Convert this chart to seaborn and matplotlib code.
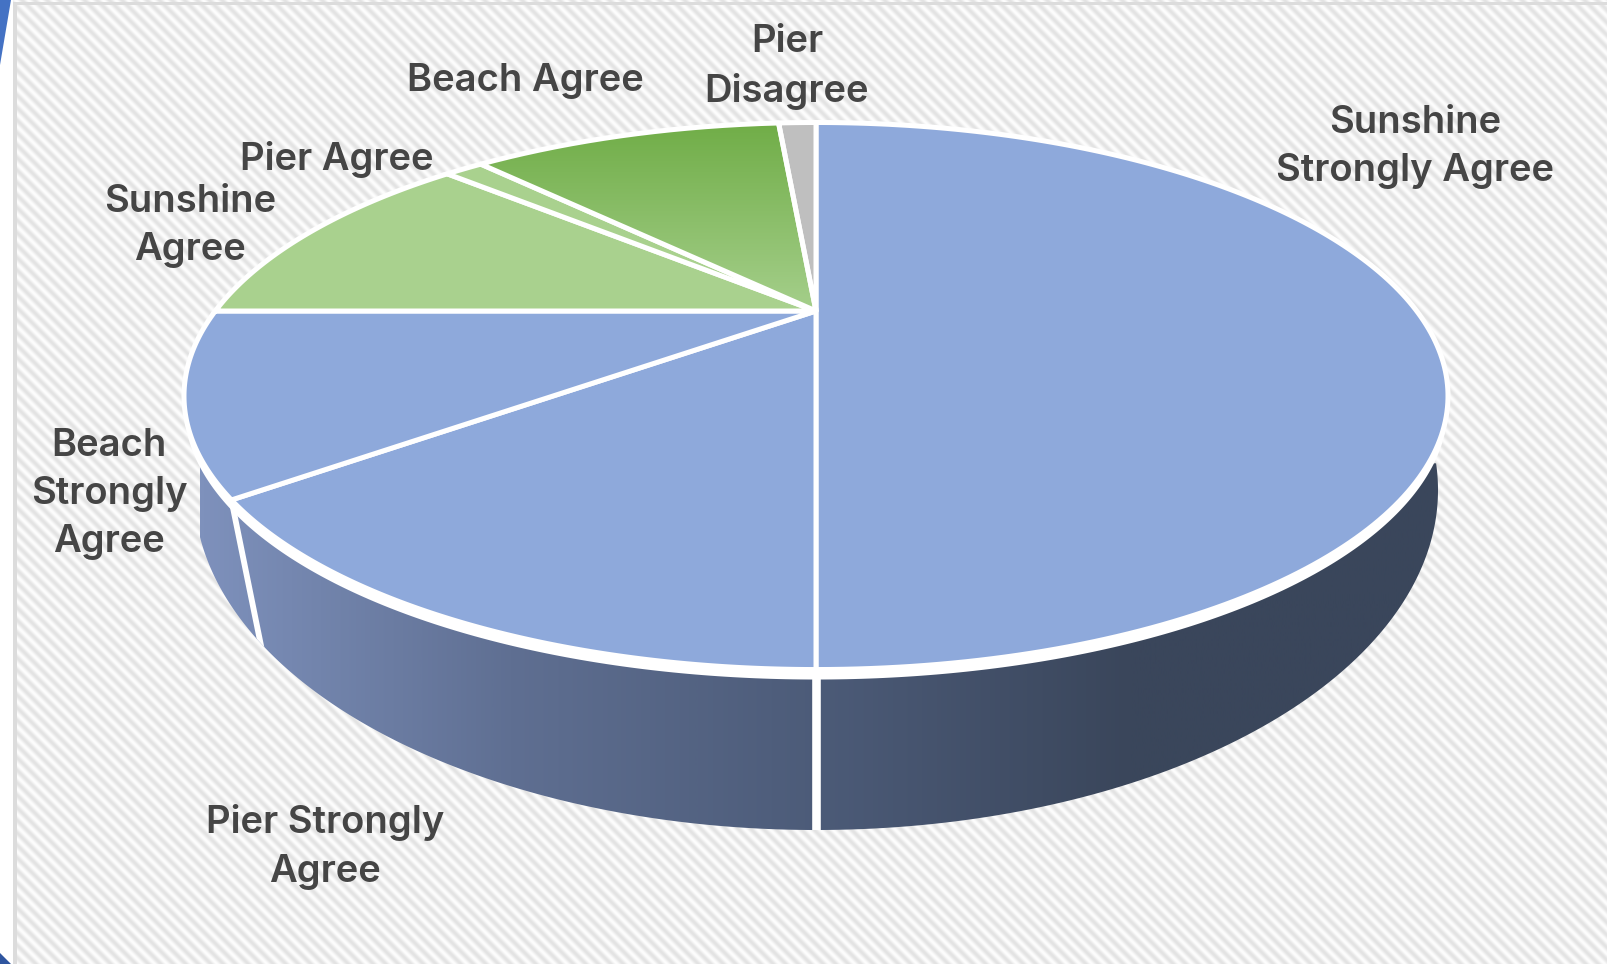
import numpy as np
import matplotlib
matplotlib.use("Agg")
import matplotlib.pyplot as plt
from matplotlib.patches import Polygon
import seaborn as sns

sns.set_theme(style="white")
plt.rcParams['font.family'] = ['Inter', 'DejaVu Sans']

# Survey shares, clockwise from 12 o'clock
categories = ["Sunshine\nStrongly Agree", "Pier Strongly\nAgree", "Beach\nStrongly\nAgree",
              "Sunshine\nAgree", "Pier Agree", "Beach Agree", "Pier\nDisagree"]
values = [50.0, 14.4, 10.6, 11.7, 1.3, 10.7, 1.3]
slice_colors = ["#8EA9DB", "#8EA9DB", "#8EA9DB", "#A9D18E", "#A9D18E", None, "#BFBFBF"]
label_x = [1415, 325, 109, 190, 337, 525, 787]
label_y = [147, 847, 494, 226, 160, 81, 67]

W, H = 1608, 964
CX, CY = 816, 311      # apex of the pie on the page
A, K, P = 600.7, 247.1, -0.3108   # perspective of the tilted disc
WALL_A, WALL_B, WALL_CY = 622, 340, 490   # outline of the lower edge of the wall


def project(theta, scale=1.0, cy=CY):
    u, v = np.sin(theta), -np.cos(theta)
    d = 1 + P * v
    return CX + scale * A * u / d, cy + scale * K * v / d


def reset_limits():
    # imshow moves the limits, put them back
    ax.set_xlim(0, W)
    ax.set_ylim(H, 0)


fig = plt.figure(figsize=(W / 100, H / 100), dpi=100)
ax = fig.add_axes([0, 0, 1, 1])
ax.axis("off")

# hatched backdrop
yy, xx = np.mgrid[0:H, 0:W]
hatch = 0.5 + 0.5 * np.sin(2 * np.pi * (xx - yy) / 12.5)
bg_cmap = sns.blend_palette(["#E3E3E3", "#FDFDFD"], as_cmap=True)
ax.imshow(hatch, cmap=bg_cmap, extent=(0, W, H, 0), aspect="auto", zorder=0)
reset_limits()
ax.fill([0, 13, 13, 0], [0, 0, H, H], color="white", lw=0, zorder=1)
ax.fill([13, 17, 17, 13], [2, 2, H, H], color="#DCDCDC", lw=0, zorder=1)
ax.fill([13, W, W, 13], [2, 2, 5, 5], color="#DCDCDC", lw=0, zorder=1)
ax.fill([0, 11, 0], [0, 0, 65], color="#4472C4", lw=0, zorder=2)
ax.fill([0, 11, 0], [953, 964, 964], color="#2F559F", lw=0, zorder=2)

# side wall
t_wall = np.linspace(0, 2 * np.pi, 1441)
wx = CX + WALL_A * np.sin(t_wall)
wy = WALL_CY - WALL_B * np.cos(t_wall)
wall_keep = wy >= 463
wall_xy = np.c_[wx[wall_keep], wy[wall_keep]]
wall_patch = Polygon(wall_xy, closed=True, fc="none", ec="none")
ax.add_patch(wall_patch)
side_cmap = sns.blend_palette(["#7E91BC", "#5F6F92", "#4C5B78", "#3A465B", "#3A465B"], as_cmap=True)
grad = ax.imshow(np.linspace(0, 1, 512)[None, :], cmap=side_cmap, extent=(200, 1440, 900, 300),
                 aspect="auto", zorder=3)
grad.set_clip_path(wall_patch)
reset_limits()

# white seams down the wall, where slices meet
edges = np.cumsum([0] + values) / sum(values) * 2 * np.pi
for a, seam_lw in zip(edges[1:3], [6.2, 4.2]):
    x0, y0 = project(a)
    x1, y1 = project(a, 0.94, CY + 184)
    seam, = ax.plot([x0, x1 + (x1 - x0)], [y0, y1 + (y1 - y0)], color="white", lw=seam_lw,
                    zorder=3.5, solid_capstyle="butt")
    seam.set_clip_path(wall_patch)

# white rim on the front of the disc
rx, ry = project(np.linspace(0, 2 * np.pi, 721))
ax.fill(rx, ry + 10, color="white", lw=0, zorder=4)

# slices
for i, (a0, a1) in enumerate(zip(edges[:-1], edges[1:])):
    t = np.linspace(a0, a1, 200)
    px, py = project(t)
    px, py = np.r_[CX, px], np.r_[CY, py]
    if slice_colors[i] is not None:
        ax.fill(px, py, fc=slice_colors[i], ec="white", lw=3.6, joinstyle="miter", zorder=5)
    else:
        poly = Polygon(np.c_[px, py], closed=True, fc="none", ec="none")
        ax.add_patch(poly)
        g = ax.imshow(np.linspace(0, 1, 256)[:, None],
                      cmap=sns.blend_palette(["#70AD47", "#A5CF8B"], as_cmap=True),
                      extent=(px.min(), px.max(), CY, py.min()), aspect="auto", zorder=5)
        g.set_clip_path(poly)
        ax.plot(np.r_[px, px[0]], np.r_[py, py[0]], color="white", lw=3.6, zorder=6)
        reset_limits()

for name, lx, ly in zip(categories, label_x, label_y):
    ax.text(lx, ly, name, ha="center", va="center", fontsize=27.5, color="#454545",
            fontweight="semibold", linespacing=1.43, zorder=7)

reset_limits()
fig.savefig("out.png", dpi=100)
